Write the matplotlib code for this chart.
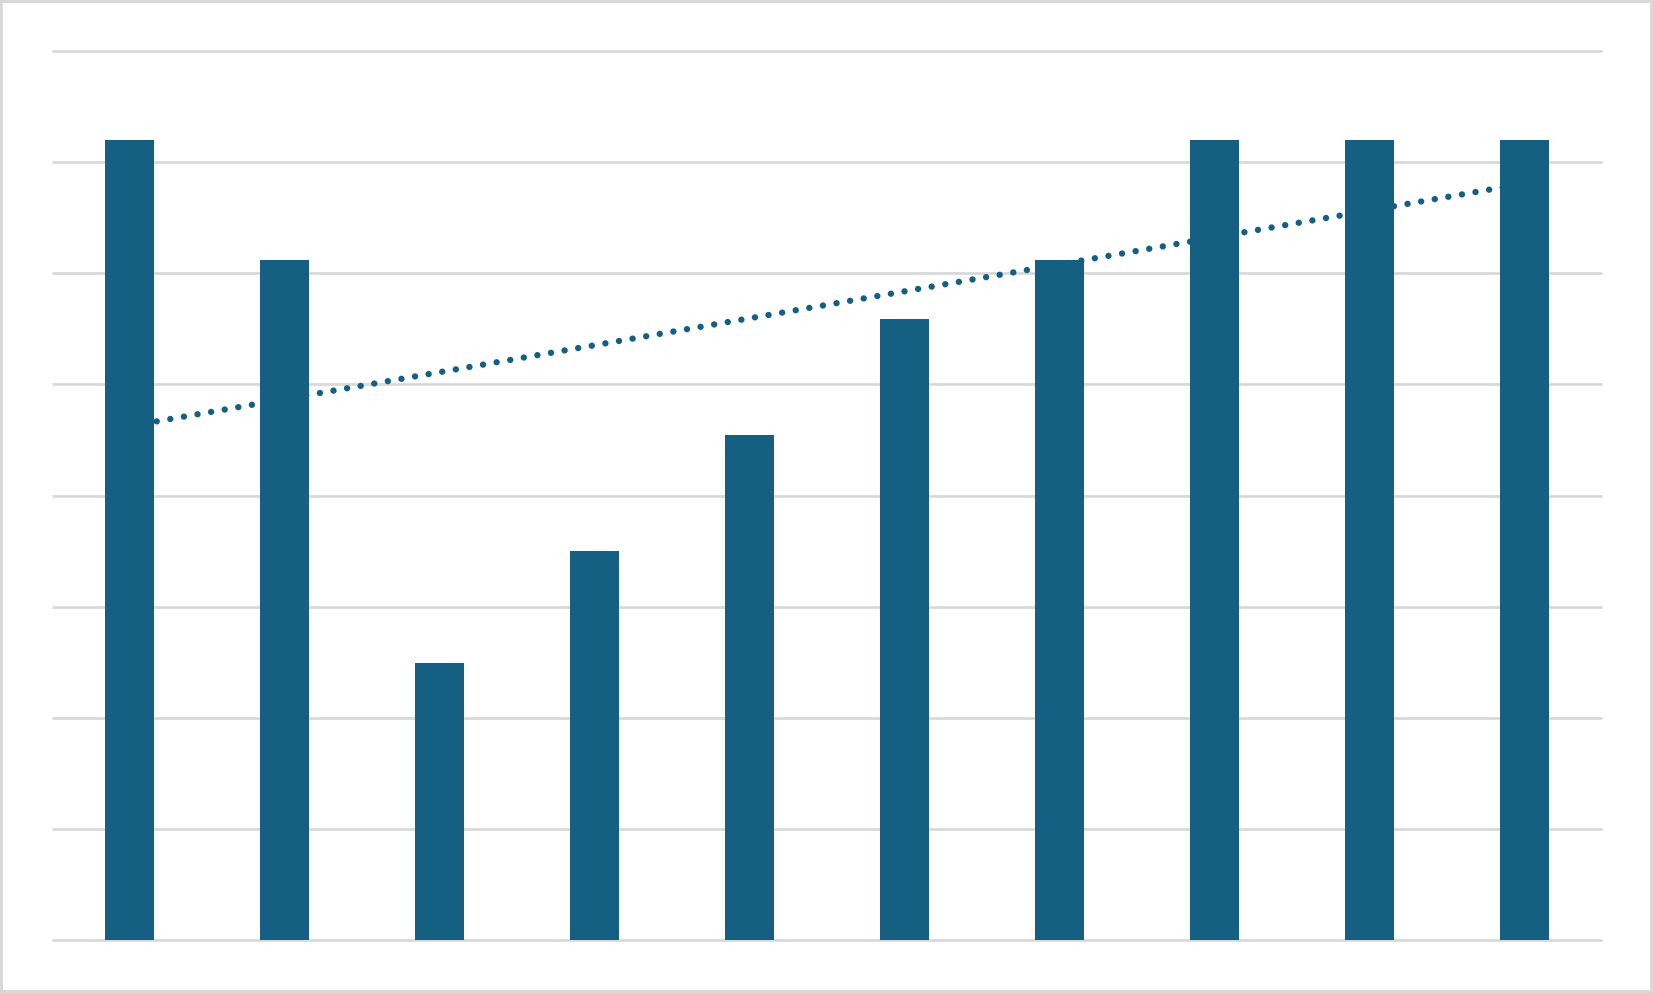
import matplotlib
matplotlib.use("Agg")
import matplotlib.pyplot as plt
import numpy as np
from matplotlib.patches import Rectangle

# bar heights in gridline units (no labels shown in the chart)
categories = list(range(1, 11))
values = [7.2, 6.12, 2.49, 3.5, 4.54, 5.59, 6.12, 7.2, 7.2, 7.2]
grid_levels = [0, 1, 2, 3, 4, 5, 6, 7, 8]

bar_color = "#156082"
grid_color = "#d9d9d9"

fig = plt.figure(figsize=(16.53, 9.93), dpi=100)
ax = fig.add_axes([52 / 1653, 53 / 993, 1550 / 1653, 889 / 993])

# gridlines (not clipped so the top and bottom ones are full width)
for g in grid_levels:
    ax.axhline(g, color=grid_color, linewidth=2.0, zorder=1, clip_on=False,
               solid_capstyle="butt")

x = np.arange(len(categories))
# linear trendline through the bar values (drawn behind the bars)
slope, intercept = np.polyfit(np.array(categories), np.array(values), 1)
trend = slope * np.array(categories) + intercept
ax.plot(x, trend, color=bar_color, linewidth=4.6,
        linestyle=(0, (0.01, 2.15)), dash_capstyle="round", zorder=2)

ax.bar(x, values, width=0.31, color=bar_color, zorder=3)

ax.set_xlim(-0.5, len(categories) - 0.5)
ax.set_ylim(0, 8)
ax.axis("off")

# light grey frame around the whole picture
fig.patches.append(Rectangle((0, 0), 1, 1, transform=fig.transFigure,
                             fill=False, edgecolor=grid_color, linewidth=4.3))

fig.savefig("out.png", dpi=100, facecolor="white")
